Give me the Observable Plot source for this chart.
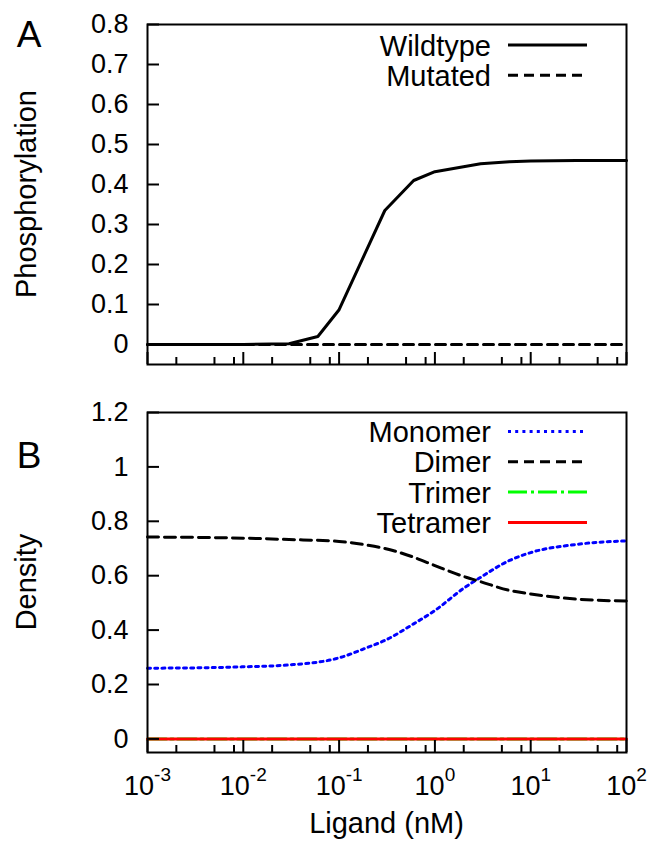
<!DOCTYPE html>
<html>
<head>
<meta charset="utf-8">
<script src="https://cdn.jsdelivr.net/npm/d3@7"></script>
<script src="https://cdn.jsdelivr.net/npm/@observablehq/plot@0.6"></script>
<style>
html, body { margin: 0; padding: 0; background: #fff; }
#chart svg { display: block; }
</style>
</head>
<body>
<div id="chart"></div>
<script>
// ---------- data ----------
const ligandA = [0.001, 0.003, 0.01, 0.03, 0.06, 0.1, 0.3, 0.6, 1, 3, 6, 10, 30, 100];
const wildtype = [0, 0, 0, 0.002, 0.02, 0.087, 0.335, 0.41, 0.432, 0.452, 0.457, 0.459, 0.46, 0.46];
const mutated = [0, 0, 0, 0, 0, 0, 0, 0, 0, 0, 0, 0, 0, 0];

const ligandB = [0.001, 0.003, 0.01, 0.03, 0.1, 0.2, 0.3, 0.6, 1, 2, 3, 6, 10, 30, 100];
const monomer = [0.26, 0.261, 0.265, 0.272, 0.298, 0.337, 0.362, 0.423, 0.472, 0.554, 0.594, 0.656, 0.685, 0.715, 0.728];
const dimer = [0.742, 0.741, 0.738, 0.733, 0.726, 0.712, 0.7, 0.668, 0.637, 0.597, 0.578, 0.546, 0.533, 0.514, 0.507];
const trimer = [0, 0, 0, 0, 0, 0, 0, 0, 0, 0, 0, 0, 0, 0, 0];
const tetramer = [0, 0, 0, 0, 0, 0, 0, 0, 0, 0, 0, 0, 0, 0, 0];

const xMajorTicks = [0.001, 0.01, 0.1, 1, 10, 100];
const xMinorMultipliers = [2, 5, 8];
const yTicksA = [0, 0.1, 0.2, 0.3, 0.4, 0.5, 0.6, 0.7, 0.8];
const yTicksB = [0, 0.2, 0.4, 0.6, 0.8, 1, 1.2];

const legendA = ["Wildtype", "Mutated"];
const legendB = ["Monomer", "Dimer", "Trimer", "Tetramer"];

// ---------- styling ----------
const FONT = "'Liberation Sans', Arial, Helvetica, sans-serif";
const W = 658;
const xMinorTicks = xMajorTicks.slice(0, -1).flatMap(d => xMinorMultipliers.map(m => d * m));
const yFmt = d => String(Math.round(d * 10) / 10);

function commonAxes(yTicks, withXLabels) {
  const m = [
    Plot.frame({stroke: "black", strokeWidth: 2}),
    Plot.axisY({ticks: yTicks, tickSize: 12, dx: 12, strokeWidth: 2, fill: "none", label: null}),
    Plot.axisY({ticks: yTicks, tickSize: 0, tickPadding: 19, fontSize: 27, tickFormat: yFmt, label: null}),
    Plot.axisX({ticks: xMajorTicks, tickSize: 12, dy: -12, strokeWidth: 2, fill: "none", label: null}),
    Plot.axisX({ticks: xMinorTicks, tickSize: 7, dy: -7, strokeWidth: 2, fill: "none", label: null})
  ];
  if (withXLabels) {
    m.push(Plot.axisX({ticks: xMajorTicks, tickSize: 0, tickPadding: 23, fontSize: 27,
      tickFormat: d => String(Math.round(Math.log10(d))), label: null}));
  }
  return m;
}

// ---------- panel A ----------
const plotA = Plot.plot({
  width: W, height: 390,
  marginLeft: 147, marginRight: 32, marginTop: 24, marginBottom: 26,
  style: {fontFamily: FONT, fontSize: "27px", color: "black", background: "white", overflow: "visible"},
  x: {type: "log", domain: [0.001, 100]},
  y: {domain: [-0.05, 0.8]},
  marks: [
    Plot.line(ligandA, {x: ligandA, y: wildtype, stroke: "black", strokeWidth: 3}),
    Plot.line(ligandA, {x: ligandA, y: mutated, stroke: "black", strokeWidth: 3, strokeDasharray: "10,6"}),
    ...commonAxes(yTicksA, false)
  ]
});

// ---------- panel B ----------
const plotB = Plot.plot({
  width: W, height: 467,
  marginLeft: 147, marginRight: 32, marginTop: 22, marginBottom: 105,
  style: {fontFamily: FONT, fontSize: "27px", color: "black", background: "white", overflow: "visible"},
  x: {type: "log", domain: [0.001, 100]},
  y: {domain: [-0.05, 1.2]},
  marks: [
    Plot.line(ligandB, {x: ligandB, y: monomer, stroke: "#0000ff", strokeWidth: 3, strokeDasharray: "3,4.2", curve: "monotone-x"}),
    Plot.line(ligandB, {x: ligandB, y: dimer, stroke: "black", strokeWidth: 3, strokeDasharray: "11,6", curve: "monotone-x"}),
    Plot.line(ligandB, {x: ligandB, y: trimer, stroke: "#00ff00", strokeWidth: 3, strokeDasharray: "19,4,3,4"}),
    Plot.line(ligandB, {x: ligandB, y: tetramer, stroke: "#ff0000", strokeWidth: 3}),
    ...commonAxes(yTicksB, true)
  ]
});

// superscript exponents on x tick labels
d3.select(plotB).selectAll('g[aria-label="x-axis tick label"] text').each(function () {
  const e = this.textContent;
  this.textContent = "";
  const t = d3.select(this);
  t.append("tspan").text("10");
  t.append("tspan").attr("dy", -14).attr("font-size", 19).text(e);
});

// ---------- annotations & legends ----------
function addLegend(svg, labels, styles, y0) {
  const g = d3.select(svg).append("g").attr("font-family", FONT).attr("font-size", 29);
  labels.forEach((lab, i) => {
    const y = y0 + i * 30.3;
    g.append("text").attr("x", 491).attr("y", y + 10.5).attr("text-anchor", "end").attr("fill", "black").text(lab);
    g.append("line").attr("x1", 508).attr("x2", 587).attr("y1", y).attr("y2", y)
      .attr("stroke", styles[i].stroke).attr("stroke-width", 3)
      .attr("stroke-dasharray", styles[i].dash || null);
  });
}
function addText(svg, txt, x, y, size, rotate) {
  const t = d3.select(svg).append("text")
    .attr("font-family", FONT).attr("font-size", size).attr("fill", "black")
    .attr("text-anchor", "middle")
    .attr("transform", `translate(${x},${y})` + (rotate ? ` rotate(${rotate})` : ""))
    .text(txt);
  return t;
}

addLegend(plotA, legendA, [{stroke: "black"}, {stroke: "black", dash: "10,6"}], 45);
addText(plotA, "A", 29, 47, 37);
addText(plotA, "Phosphorylation", 36, 194, 29, -90);

addLegend(plotB, legendB, [
  {stroke: "#0000ff", dash: "3,4.2"},
  {stroke: "black", dash: "10,6"},
  {stroke: "#00ff00", dash: "19,4,3,4"},
  {stroke: "#ff0000"}
], 41.5);
addText(plotB, "B", 29, 78, 37);
addText(plotB, "Density", 36, 192, 29, -90);
addText(plotB, "Ligand (nM)", 386.5, 443, 29);

document.getElementById("chart").append(plotA, plotB);
</script>
</body>
</html>
